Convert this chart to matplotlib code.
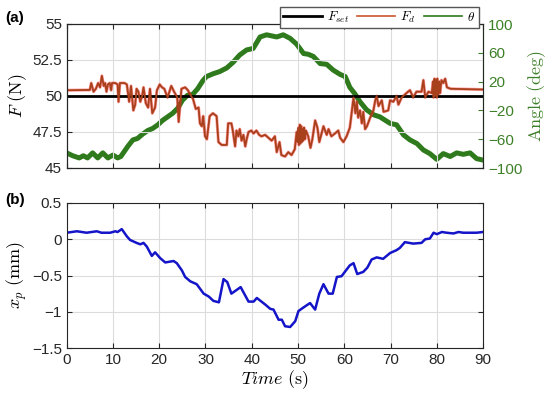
import matplotlib
matplotlib.use("Agg")
import matplotlib.pyplot as plt

plt.rcParams['font.family'] = ['Liberation Sans', 'DejaVu Sans']
plt.rcParams['mathtext.fontset'] = 'cm'

# desired force
f_set = 50.0

# measured force F_d (N)
t_fd = [0, 5.0, 5.3, 5.8, 6.3, 6.8, 7.2, 7.6, 8.0, 8.3, 8.6, 8.9, 9.3, 9.6, 9.8, 10.5,
        11.0, 11.2, 11.5, 12.5, 13.0, 13.5, 13.9, 14.4, 14.8, 15.1, 15.5, 15.9, 16.3,
        16.6, 17.1, 17.6, 18.0, 18.5, 19.1, 19.5, 20.1, 20.6, 21.1, 21.8, 22.6, 23.2,
        23.9, 24.2, 24.8, 25.6, 26.2, 26.7, 27.3, 27.9, 28.5, 28.8, 29.2, 29.5, 29.9,
        30.3, 30.9, 31.6, 32.4, 32.8, 33.5, 34.6, 34.9, 35.6, 35.9, 36.4, 36.7, 37.1,
        37.4, 37.8, 38.2, 38.6, 38.9, 39.3, 39.9, 40.4, 41.0, 41.6, 42.1, 42.9, 43.6,
        44.3, 45.0, 45.4, 46.0, 46.4, 47.2, 47.9, 48.6, 49.3, 49.7, 49.9, 50.1, 50.2,
        50.4, 50.5, 50.7, 50.8, 51.0, 51.1, 51.3, 51.5, 51.7, 52.2, 52.7, 53.1, 53.7,
        54.2, 54.6, 55.5, 56.2, 56.6, 57.2, 58.0, 58.7, 59.1, 59.8, 60.5, 61.2, 61.5,
        62.0, 62.4, 62.7, 63.0, 63.4, 63.8, 64.1, 64.5, 64.9, 65.6, 66.3, 66.7, 67.0,
        67.4, 68.1, 68.5, 69.5, 69.9, 70.6, 71.3, 71.7, 72.4, 73.1, 73.8, 74.2, 74.9,
        75.6, 76.7, 77.1, 77.5, 78.2, 78.9, 79.2, 79.3, 79.5, 79.6, 79.8, 80.0, 80.1,
        80.3, 80.5, 80.7, 81.0, 81.4, 81.8, 82.2, 83.0, 90.0]
f_d = [50.40, 50.42, 50.9, 50.3, 50.5, 50.9, 50.6, 51.4, 50.7, 50.9, 50.3, 50.8, 50.9,
       50.4, 50.9, 50.9, 50.8, 49.6, 50.9, 50.9, 50.8, 49.6, 50.7, 49.0, 49.4, 50.5, 50.3,
       49.6, 50.0, 50.6, 49.5, 49.2, 50.5, 48.8, 49.2, 50.4, 50.8, 50.6, 50.5, 49.9, 50.7,
       50.3, 49.9, 48.2, 50.5, 50.6, 50.4, 50.1, 49.8, 49.1, 49.2, 48.1, 47.9, 48.6, 47.2,
       47.0, 48.6, 48.8, 48.6, 46.8, 46.6, 46.6, 48.1, 48.1, 47.6, 46.5, 47.6, 47.2, 47.7,
       46.9, 47.3, 46.5, 47.0, 47.5, 47.6, 47.4, 47.6, 47.3, 47.2, 47.3, 47.1, 46.9, 47.2,
       46.1, 46.8, 45.9, 45.8, 46.1, 45.9, 46.3, 47.5, 46.8, 47.8, 46.6, 48.0, 46.7, 47.9,
       46.8, 47.7, 46.9, 47.8, 47.0, 47.6, 47.2, 46.4, 47.0, 48.3, 47.8, 46.8, 47.9, 47.3,
       47.7, 47.2, 47.4, 47.6, 47.1, 46.8, 47.2, 47.8, 48.6, 49.9, 48.8, 49.6, 48.5, 49.0,
       48.1, 48.9, 47.7, 47.9, 48.5, 49.0, 49.7, 50.0, 49.3, 49.7, 48.9, 49.0, 49.7, 49.6,
       50.0, 49.4, 49.9, 50.1, 50.3, 50.4, 49.9, 50.3, 50.3, 51.1, 49.9, 50.3, 50.2, 51.0,
       49.9, 51.2, 50.0, 51.1, 49.9, 51.2, 50.1, 51.0, 50.2, 51.1, 50.9, 51.2, 50.6, 50.5,
       50.45]

# joint angle theta (deg)
t_theta = [0, 1.3, 2.7, 3.6, 4.5, 5.6, 6.7, 7.8, 8.9, 10.0, 11.0, 11.7, 13.2, 14.3, 15.3,
           16.4, 17.5, 18.6, 19.7, 20.7, 21.8, 22.9, 24.0, 25.0, 26.1, 27.2, 28.3, 29.4,
           30.2, 31.7, 33.1, 34.6, 36.0, 37.4, 38.9, 40.3, 41.8, 43.2, 45.4, 46.8, 48.3,
           49.7, 51.2, 52.2, 53.3, 54.8, 56.2, 57.6, 59.1, 60.2, 61.2, 62.3, 63.4, 64.8,
           66.3, 67.7, 69.9, 71.3, 72.8, 74.2, 75.7, 77.1, 78.5, 80.0, 81.4, 82.9, 84.3,
           85.7, 87.2, 88.6, 90]
theta = [-79, -83, -86, -83, -86, -79, -86, -79, -86, -82, -86, -84, -70, -61, -59, -53,
         -48, -45, -40, -34, -29, -24, -17, -6, 1, 2, 10, 21, 27, 31, 34, 39, 47, 57, 64,
         66, 82, 85, 82, 85, 80, 72, 59, 58, 55, 45, 44, 36, 30, 27, 12, 3, -8, -19, -26,
         -29, -38, -40, -54, -61, -66, -75, -80, -88, -80, -84, -79, -81, -79, -87, -89]

# position x_p (mm)
t_xp = [0, 2.2, 4.3, 6.5, 7.5, 9.4, 10.5, 11.0, 11.9, 13.0, 13.7, 15.1, 15.9, 16.6, 17.3,
        18.4, 19.1, 20.2, 21.3, 23.1, 23.8, 24.9, 25.6, 26.7, 28.1, 29.6, 30.7, 31.7,
        32.9, 33.9, 34.7, 35.6, 37.6, 39.3, 40.4, 41.1, 42.9, 44.0, 44.7, 45.8, 46.5,
        47.2, 48.3, 49.4, 50.1, 51.2, 52.6, 53.7, 54.6, 55.5, 56.6, 57.5, 58.4, 59.4,
        61.2, 62.0, 62.8, 64.1, 65.0, 65.9, 67.0, 68.4, 69.9, 71.3, 72.0, 73.1, 74.9,
        76.7, 77.5, 78.5, 79.3, 80.0, 81.1, 82.1, 83.6, 84.7, 85.7, 88.6, 90]
x_p = [0.09, 0.11, 0.09, 0.11, 0.09, 0.09, 0.11, 0.10, 0.14, 0.04, -0.01, -0.05, -0.07,
       -0.05, -0.10, -0.23, -0.18, -0.26, -0.32, -0.30, -0.33, -0.43, -0.52, -0.58, -0.62,
       -0.75, -0.79, -0.85, -0.87, -0.55, -0.59, -0.75, -0.66, -0.86, -0.86, -0.81, -0.90,
       -0.96, -0.97, -1.11, -1.11, -1.20, -1.21, -1.13, -0.99, -0.94, -0.88, -0.97, -0.75,
       -0.62, -0.75, -0.75, -0.52, -0.51, -0.36, -0.33, -0.48, -0.45, -0.39, -0.28, -0.25,
       -0.27, -0.19, -0.15, -0.12, -0.04, -0.06, -0.05, 0.0, 0.01, 0.09, 0.07, 0.10, 0.09,
       0.08, 0.10, 0.09, 0.09, 0.10]

green = '#2e7a1c'
green_txt = '#3d8028'

fig = plt.figure(figsize=(5.5, 4), dpi=100)
ax1 = fig.add_axes([0.1213, 0.58, 0.757, 0.36])
ax2 = ax1.twinx()
ax3 = fig.add_axes([0.1213, 0.13, 0.757, 0.3625])

# top panel: force + angle
ax2.plot(t_theta, theta, color=green, lw=3.6, label=r'$\theta$', solid_joinstyle='round')
ax1.plot(t_fd, f_d, color='#ff2020', lw=2.2, alpha=0.45)
l_set = ax1.axhline(f_set, color='black', lw=2, label=r'$F_{set}$')
l_fd, = ax1.plot(t_fd, f_d, color='#a8401c', lw=1.3, label=r'$F_d$')
ax1.set_zorder(ax2.get_zorder() + 1)
ax1.patch.set_visible(False)

ax1.set_xlim(0, 90)
ax1.set_ylim(45, 55)
ax1.set_yticks([45, 47.5, 50, 52.5, 55])
ax1.set_yticklabels(['45', '47.5', '50', '52.5', '55'])
ax1.set_xticks(range(0, 91, 10))
ax1.set_xticklabels([])
ax1.grid(True, color='#dcdcdc', lw=0.8)
ax1.set_axisbelow(True)
ax1.set_ylabel(r'$F\ \mathrm{(N)}$', fontsize=13, labelpad=2)
ax1.tick_params(top=True)

ax2.set_ylim(-100, 100)
ax2.set_yticks([-100, -60, -20, 20, 60, 100])
ax2.set_yticklabels(['\u2212100', '\u221260', '\u221220', '20', '60', '100'])
ax2.tick_params(axis='y', colors=green_txt, direction='in', labelsize=11)
ax2.spines['right'].set_color(green_txt)
ax2.set_ylabel(r'$\mathrm{Angle\ (deg)}$', fontsize=13, color=green_txt, labelpad=2)

# bottom panel: position
ax3.plot(t_xp, x_p, color='#1414c8', lw=1.8)
ax3.set_xlim(0, 90)
ax3.set_ylim(-1.5, 0.5)
ax3.set_xticks(range(0, 91, 10))
ax3.set_yticks([-1.5, -1, -0.5, 0, 0.5])
ax3.set_yticklabels(['\u22121.5', '\u22121', '\u22120.5', '0', '0.5'])
ax3.grid(True, color='#dcdcdc', lw=0.8)
ax3.set_axisbelow(True)
ax3.set_ylabel(r'$x_p\ \mathrm{(mm)}$', fontsize=13, labelpad=2)
ax3.set_xlabel(r'$Time\ \mathrm{(s)}$', fontsize=13, labelpad=1)
ax3.tick_params(top=True, right=True)

for ax in (ax1, ax3):
    ax.tick_params(direction='in', labelsize=11, colors='#262626')
    for s in ax.spines.values():
        s.set_color('#262626')
        s.set_linewidth(0.8)

leg = fig.legend([l_set, l_fd, ax2.lines[0]], [r'$F_{set}$', r'$F_d$', r'$\theta$'],
                 loc='upper right', bbox_to_anchor=(0.882, 1.0), ncol=3, fontsize=9.5,
                 handlelength=2.9, handletextpad=0.4, columnspacing=0.6,
                 fancybox=False, framealpha=1, edgecolor='#555555',
                 borderpad=0.25)
leg.legend_handles[2].set_linewidth(1.2)
leg.legend_handles[1].set_color('#c8552a')
leg.legend_handles[1].set_linewidth(1.2)

fig.text(0.01, 0.945, '(a)', fontsize=11, fontweight='bold')
fig.text(0.01, 0.49, '(b)', fontsize=11, fontweight='bold')

fig.savefig('out.png', dpi=100)
